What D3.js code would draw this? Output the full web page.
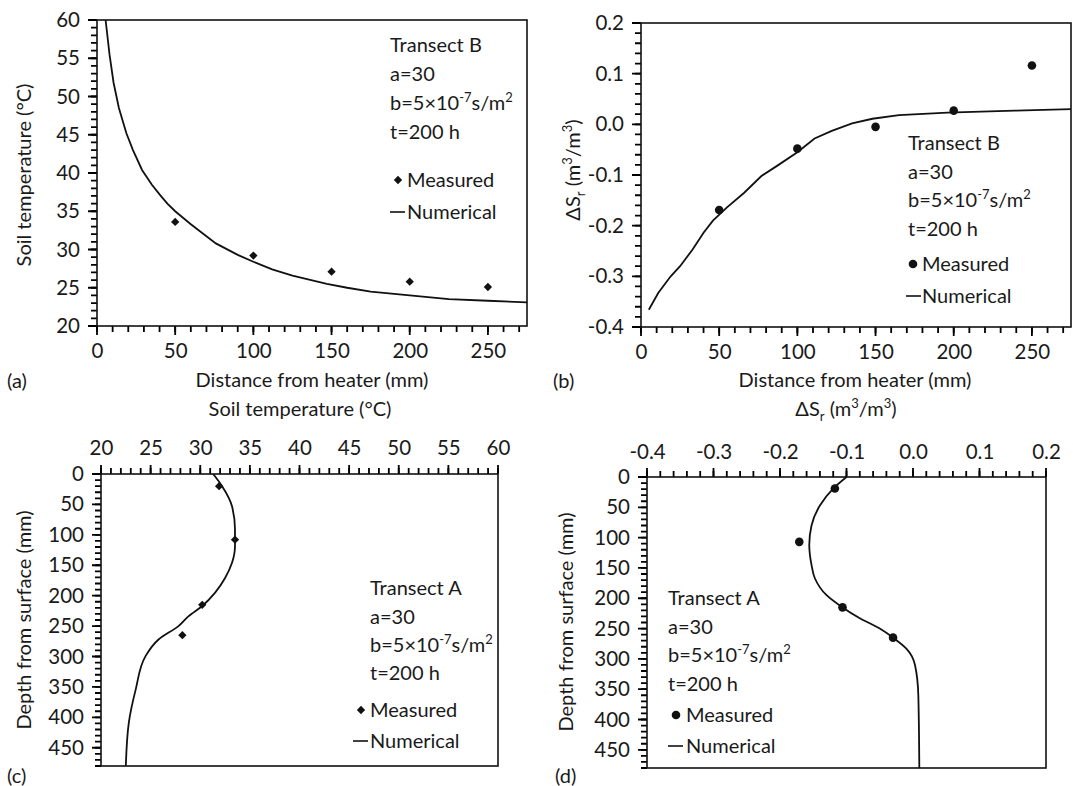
<!DOCTYPE html>
<html>
<head>
<meta charset="utf-8">
<script src="https://cdn.jsdelivr.net/npm/d3@7/dist/d3.min.js"></script>
<style>
  body { margin: 0; background: #fff; }
  text { font-family: Lato, "Open Sans", sans-serif; fill: #1a1a1a; }
</style>
</head>
<body>
<svg id="chart"></svg>
<script>
// ---- values ----
// (a) Transect B: soil temperature vs distance from heater
const aMeasDist = [50, 100, 150, 200, 250];
const aMeasTemp = [33.6, 29.2, 27.1, 25.8, 25.1];
const aNumDist = [3, 5.5, 8, 10.6, 14, 18.8, 23, 28.8, 35, 40, 45, 50, 60, 76, 90, 100, 112, 125, 147, 160, 175, 200, 225, 250, 275];
const aNumTemp = [66, 60, 55.5, 51.8, 48.5, 45.2, 43, 40.4, 38.5, 37.2, 36, 35, 33.3, 30.8, 29.3, 28.4, 27.4, 26.6, 25.5, 25, 24.5, 24.0, 23.5, 23.3, 23.1];

// (b) Transect B: change of degree of saturation vs distance from heater
const bMeasDist = [50, 100, 150, 200, 250];
const bMeasDs = [-0.169, -0.048, -0.005, 0.027, 0.116];
const bNumDist = [5, 11, 19, 25, 33, 40, 46, 55, 66, 77, 87, 100, 111, 122, 135, 148, 165, 196, 239, 275];
const bNumDs = [-0.366, -0.333, -0.3, -0.28, -0.247, -0.214, -0.19, -0.164, -0.135, -0.102, -0.082, -0.055, -0.028, -0.013, 0.002, 0.011, 0.018, 0.023, 0.027, 0.03];

// (c) Transect A: soil temperature vs depth
const cMeasDepth = [20, 108, 215, 265];
const cMeasTemp = [31.9, 33.5, 30.2, 28.2];
const cNumDepth = [0, 20, 53, 91, 119, 146, 171, 195, 217, 234, 250, 272, 299, 354, 409, 480];
const cNumTemp = [31.3, 32.2, 33.2, 33.5, 33.5, 33.2, 32.5, 31.5, 30.2, 28.8, 27.8, 25.8, 24.5, 23.5, 22.8, 22.5];

// (d) Transect A: change of degree of saturation vs depth
const dMeasDepth = [19, 107, 215, 265];
const dMeasDs = [-0.1175, -0.171, -0.106, -0.03];
const dNumDepth = [0, 19, 47, 80, 112, 145, 167, 195, 214, 233, 250, 265, 283, 310, 360, 480];
const dNumDs = [-0.1, -0.12, -0.14, -0.1526, -0.156, -0.1526, -0.1476, -0.13, -0.1075, -0.08, -0.05, -0.03, -0.01, 0.003, 0.008, 0.0095];

// tick labels
const distTicks = [0, 50, 100, 150, 200, 250];
const tempTicks = [20, 25, 30, 35, 40, 45, 50, 55, 60];
const dsTicks = [-0.4, -0.3, -0.2, -0.1, 0.0, 0.1, 0.2];
const depthTicks = [0, 50, 100, 150, 200, 250, 300, 350, 400, 450];

// text bits
const supText = [['b=5×10', ''], ['-7', 'sup'], ['s/m', ''], ['2', 'sup']];
const dsLabel = [['ΔS', ''], ['r', 'sub'], [' (m', ''], ['3', 'sup'], ['/m', ''], ['3', 'sup'], [')', '']];

const width = 1073;
const height = 786;
const ink = '#111';

const svg = d3.select('svg#chart').attr('width', width).attr('height', height);

// write text with super/subscript pieces
function richText(parent, parts, x, y, anchor, rotate) {
  const t = parent.append('text')
      .attr('x', x).attr('y', y)
      .attr('font-size', 20)
      .attr('text-anchor', anchor || 'start');
  if (rotate) t.attr('transform', `rotate(-90,${x},${y})`);
  let shift = 0;
  parts.forEach(([s, kind]) => {
    const off = kind === 'sup' ? -8 : kind === 'sub' ? 5 : 0;
    t.append('tspan').attr('dy', off - shift).attr('font-size', kind ? 13 : null).text(s);
    shift = off;
  });
  return t;
}

// tick marks along one side of the frame as a single path, placed with the scale
function tickMarks(g, scale, vals, len, side, at) {
  const d = vals.map(v => side === 'x'
      ? `M${scale(v)},${at}V${at + len}`
      : `M${at},${scale(v)}H${at - len}`).join('');
  g.append('path')
      .attr('d', d)
      .attr('fill', 'none')
      .attr('stroke', '#000')
      .attr('stroke-width', 1.8);
}

function drawPanel(p) {
  const g = svg.append('g');
  const x = d3.scaleLinear().domain(p.xDomain).range([p.left, p.right]);
  const y = d3.scaleLinear().domain(p.yDomain)
      .range(p.xTop ? [p.top, p.bottom] : [p.bottom, p.top]);

  svg.append('clipPath').attr('id', 'clip-' + p.id)
    .append('rect')
      .attr('x', p.left).attr('y', p.top)
      .attr('width', p.right - p.left).attr('height', p.bottom - p.top);

  // tick labels through d3 axes
  const xAxis = p.xTop ? d3.axisTop : d3.axisBottom;
  const xPos = p.xTop ? p.top : p.bottom;
  const xa = g.append('g')
      .attr('transform', `translate(0,${xPos})`)
      .call(xAxis(x).tickValues(p.xTicks).tickSize(0).tickPadding(8 + p.xPad).tickFormat(p.xFormat));
  const ya = g.append('g')
      .attr('transform', `translate(${p.left},0)`)
      .call(d3.axisLeft(y).tickValues(p.yTicks).tickSize(0).tickPadding(8 + p.yPad).tickFormat(p.yFormat));
  [xa, ya].forEach(ax => {
    ax.attr('font-size', 20.5).attr('font-family', null);
    ax.select('.domain').remove();
  });

  // tick marks, pointing outward
  const dir = p.xTop ? -1 : 1;
  tickMarks(g, x, p.xMinor, dir * 6, 'x', xPos);
  tickMarks(g, x, p.xTicks, dir * 9, 'x', xPos);
  tickMarks(g, y, p.yMinor, 6, 'y', p.left);
  tickMarks(g, y, p.yTicks, 9, 'y', p.left);

  // frame
  g.append('rect')
      .attr('x', p.left).attr('y', p.top)
      .attr('width', p.right - p.left).attr('height', p.bottom - p.top)
      .attr('fill', 'none').attr('stroke', ink).attr('stroke-width', 1.6);

  // numerical line
  const pts = p.numX.map((v, i) => [v, p.numY[i]]);
  g.append('path')
      .datum(pts)
      .attr('clip-path', `url(#clip-${p.id})`)
      .attr('fill', 'none')
      .attr('stroke', '#111')
      .attr('stroke-width', 1.8)
      .attr('d', d3.line().x(d => x(d[0])).y(d => y(d[1])).curve(p.curve));

  const diamond = d3.symbol(d3.symbolDiamond2 || d3.symbolDiamond, 44);

  // measured points
  const meas = p.measX.map((v, i) => [v, p.measY[i]]);
  if (p.marker === 'diamond') {
    g.selectAll('.pt').data(meas).join('path')
        .attr('class', 'pt')
        .attr('transform', d => `translate(${x(d[0])},${y(d[1])})`)
        .attr('d', diamond)
        .attr('fill', '#111');
  } else {
    g.selectAll('.pt').data(meas).join('circle')
        .attr('class', 'pt')
        .attr('cx', d => x(d[0])).attr('cy', d => y(d[1]))
        .attr('r', 4.3)
        .attr('fill', '#111');
  }

  // parameter block
  const L = p.legend;
  richText(g, [[p.transect, '']], L.x, L.rows[0]);
  richText(g, [['a=30', '']], L.x, L.rows[1]);
  richText(g, supText, L.x, L.rows[2]);
  richText(g, [['t=200 h', '']], L.x, L.rows[3]);
  if (p.marker === 'diamond') {
    g.append('path')
        .attr('transform', `translate(${L.symX},${L.rows[4] - 7})`)
        .attr('d', diamond)
        .attr('fill', '#111');
  } else {
    g.append('circle').attr('cx', L.symX).attr('cy', L.rows[4] - 7).attr('r', 4.3).attr('fill', '#111');
  }
  richText(g, [['Measured', '']], L.textX, L.rows[4]);
  g.append('line')
      .attr('x1', L.dashX).attr('x2', L.dashX + 15)
      .attr('y1', L.rows[5] - 7).attr('y2', L.rows[5] - 7)
      .attr('stroke', '#111').attr('stroke-width', 1.6);
  richText(g, [['Numerical', '']], L.textX, L.rows[5]);

  // titles
  richText(g, p.xTitle, p.xTitlePos[0], p.xTitlePos[1], 'middle');
  richText(g, p.yTitle, p.yTitlePos[0], p.yTitlePos[1], 'middle', true);
  richText(g, [[p.tag, '']], p.tagPos[0], p.tagPos[1]);
}

const fmt1 = d => d.toFixed(1);
const fmt0 = d => String(d);

drawPanel({
  id: 'a', tag: '(a)', tagPos: [7, 388], transect: 'Transect B', marker: 'diamond',
  left: 97, right: 527, top: 20, bottom: 326, curve: d3.curveLinear,
  xDomain: [0, 275], yDomain: [20, 60],
  xTicks: distTicks, xMinor: d3.range(0, 276, 10), xFormat: fmt0, xPad: 9,
  yTicks: tempTicks, yMinor: d3.range(20, 60.5, 1), yFormat: fmt0, yPad: 9,
  numX: aNumDist, numY: aNumTemp, measX: aMeasDist, measY: aMeasTemp,
  legend: { x: 390, rows: [52, 81, 110, 139, 187, 219], symX: 398, textX: 407, dashX: 390 },
  xTitle: [['Distance from heater (mm)', '']], xTitlePos: [312, 387],
  yTitle: [['Soil temperature (°C)', '']], yTitlePos: [31, 175]
});

drawPanel({
  id: 'b', tag: '(b)', tagPos: [553, 388], transect: 'Transect B', marker: 'dot',
  left: 641, right: 1071, top: 23, bottom: 327, curve: d3.curveLinear,
  xDomain: [0, 275], yDomain: [-0.4, 0.2],
  xTicks: distTicks, xMinor: d3.range(0, 276, 10), xFormat: fmt0, xPad: 9,
  yTicks: dsTicks, yMinor: d3.range(-0.4, 0.201, 0.02), yFormat: fmt1, yPad: 9,
  numX: bNumDist, numY: bNumDs, measX: bMeasDist, measY: bMeasDs,
  legend: { x: 908, rows: [150, 179, 207, 236, 271, 303], symX: 913, textX: 922, dashX: 906 },
  xTitle: [['Distance from heater (mm)', '']], xTitlePos: [855, 387],
  yTitle: dsLabel, yTitlePos: [580, 170]
});

drawPanel({
  id: 'c', tag: '(c)', tagPos: [7, 783], transect: 'Transect A', marker: 'diamond', xTop: true,
  left: 101, right: 498, top: 474, bottom: 766, curve: d3.curveMonotoneY,
  xDomain: [20, 60], yDomain: [0, 480],
  xTicks: tempTicks, xMinor: d3.range(20, 60.5, 1), xFormat: fmt0, xPad: 11,
  yTicks: depthTicks, yMinor: d3.range(0, 481, 10), yFormat: fmt0, yPad: 9,
  numX: cNumTemp, numY: cNumDepth, measX: cMeasTemp, measY: cMeasDepth,
  legend: { x: 370, rows: [595, 624, 652, 680, 717, 748], symX: 361, textX: 370, dashX: 353 },
  xTitle: [['Soil temperature (°C)', '']], xTitlePos: [300, 416],
  yTitle: [['Depth from surface (mm)', '']], yTitlePos: [31, 620]
});

drawPanel({
  id: 'd', tag: '(d)', tagPos: [555, 783], transect: 'Transect A', marker: 'dot', xTop: true,
  left: 647, right: 1046, top: 477, bottom: 768, curve: d3.curveMonotoneY,
  xDomain: [-0.4, 0.2], yDomain: [0, 480],
  xTicks: dsTicks, xMinor: d3.range(-0.4, 0.201, 0.02), xFormat: fmt1, xPad: 10,
  yTicks: depthTicks, yMinor: d3.range(0, 481, 10), yFormat: fmt0, yPad: 9,
  numX: dNumDs, numY: dNumDepth, measX: dMeasDs, measY: dMeasDepth,
  legend: { x: 668, rows: [605, 634, 662, 691, 722, 753], symX: 676, textX: 686, dashX: 668 },
  xTitle: dsLabel, xTitlePos: [846, 416],
  yTitle: [['Depth from surface (mm)', '']], yTitlePos: [573, 622]
});
</script>
</body>
</html>
